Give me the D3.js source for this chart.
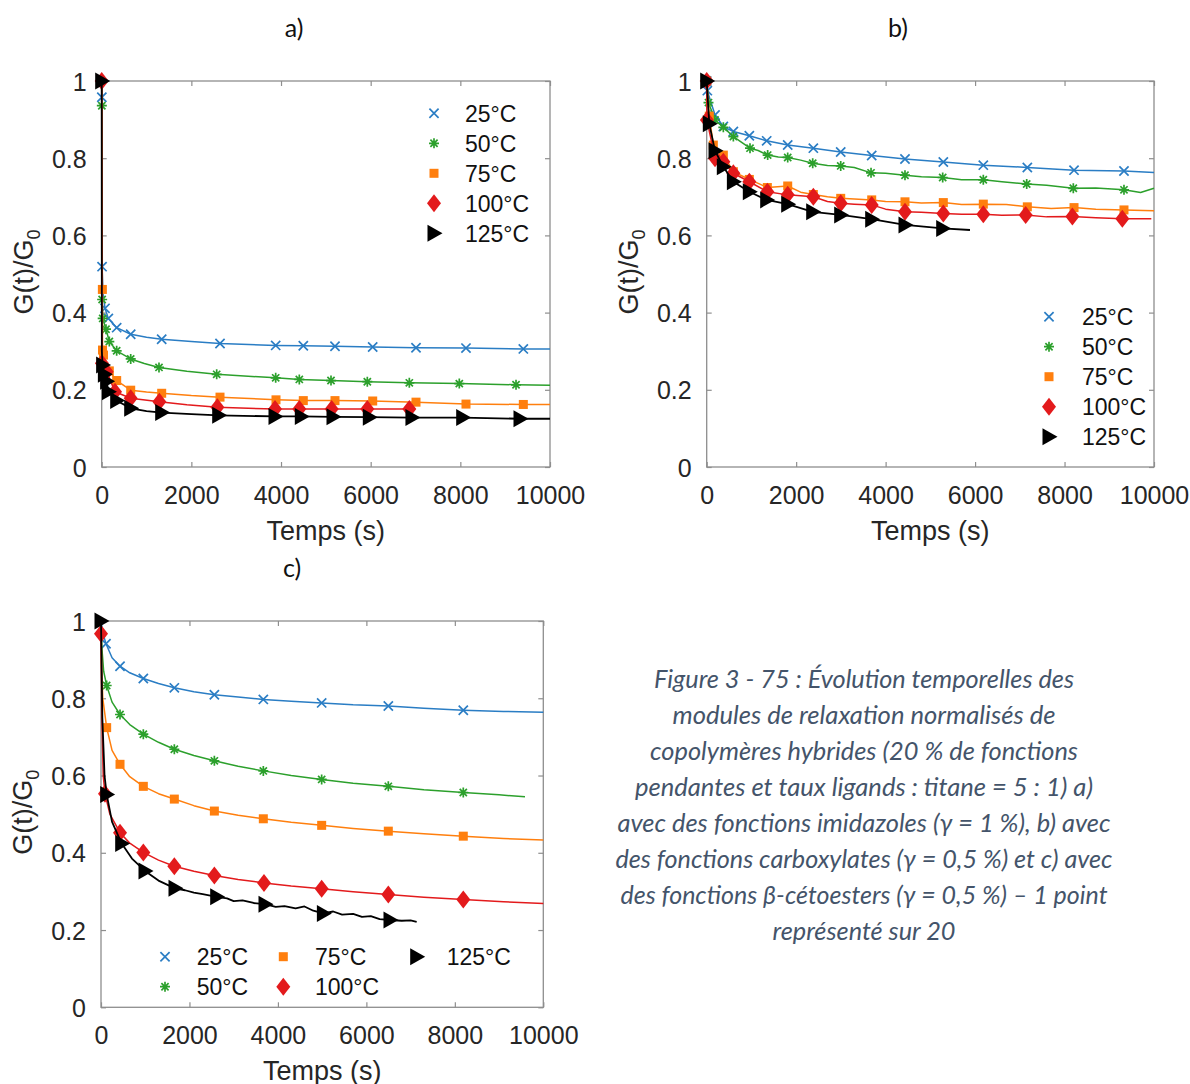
<!DOCTYPE html>
<html><head><meta charset="utf-8">
<script src="https://cdn.jsdelivr.net/npm/d3@7"></script>
<style>body{margin:0;background:#fff}svg{display:block}</style>
</head><body>
<svg id="chart" width="1190" height="1084"></svg>
<script>
// ---------- data ----------
const seriesNames = ["25°C", "50°C", "75°C", "100°C", "125°C"];
const xTickValues = [0, 2000, 4000, 6000, 8000, 10000];
const yTickValues = [0, 0.2, 0.4, 0.6, 0.8, 1];
const yTickLabels = ["0", "0.2", "0.4", "0.6", "0.8", "1"];
const panelTitles = ["a)", "b)", "c)"];
const xLabel = "Temps (s)";
const captionLines = [
  "Figure 3 - 75 : Évolution temporelles des",
  "modules de relaxation normalisés de",
  "copolymères hybrides (20 % de fonctions",
  "pendantes et taux ligands : titane = 5 : 1) a)",
  "avec des fonctions imidazoles (γ = 1 %), b) avec",
  "des fonctions carboxylates (γ = 0,5 %) et c) avec",
  "des fonctions β-cétoesters (γ = 0,5 %) – 1 point",
  "représenté sur 20"
];

// Panel a (imidazoles)
const a25Marks = [[3,0.958],[8,0.519],[74,0.411],[148,0.385],[334,0.361],[647,0.344],[1338,0.331],[2639,0.320],[3881,0.315],[4497,0.314],[5204,0.313],[6045,0.311],[7011,0.309],[8126,0.308],[9405,0.306]];
const a25Line = [[0,1],[3,0.958],[8,0.519],[30,0.45],[74,0.411],[148,0.385],[334,0.361],[647,0.344],[1000,0.336],[1338,0.331],[2000,0.325],[2639,0.320],[3881,0.315],[4497,0.314],[5204,0.313],[6045,0.311],[7011,0.309],[8126,0.308],[9405,0.306],[10000,0.306]];
const a50Marks = [[3,0.936],[10,0.434],[22,0.385],[96,0.357],[170,0.325],[334,0.301],[647,0.280],[1278,0.258],[2565,0.240],[3881,0.231],[4408,0.227],[5115,0.224],[5925,0.221],[6862,0.218],[7977,0.216],[9242,0.213]];
const a50Line = [[0,1],[3,0.936],[10,0.434],[22,0.385],[96,0.357],[170,0.325],[334,0.301],[647,0.280],[950,0.268],[1278,0.258],[1900,0.248],[2565,0.240],[3881,0.231],[4408,0.227],[5115,0.224],[5925,0.221],[6862,0.218],[7977,0.216],[9242,0.213],[10000,0.212]];
const a75Marks = [[15,0.460],[18,0.303],[40,0.290],[170,0.249],[334,0.224],[647,0.199],[1338,0.191],[2639,0.181],[3888,0.174],[4497,0.172],[5204,0.172],[6045,0.171],[7011,0.168],[8126,0.163],[9405,0.162]];
const a75Line = [[0,1],[15,0.460],[18,0.303],[40,0.290],[170,0.249],[334,0.224],[647,0.199],[1000,0.194],[1338,0.191],[2000,0.185],[2639,0.181],[3888,0.174],[4497,0.172],[5204,0.172],[6045,0.171],[7011,0.168],[8126,0.163],[9405,0.162],[10000,0.162]];
const a100Marks = [[0,1],[5,0.269],[111,0.247],[297,0.195],[647,0.178],[1286,0.169],[2580,0.155],[3866,0.150],[4408,0.150],[5130,0.150],[5925,0.150],[6862,0.150]];
const a100Line = [[0,1],[5,0.269],[111,0.247],[297,0.195],[647,0.178],[1286,0.169],[1900,0.161],[2580,0.155],[3866,0.150],[4408,0.150],[5130,0.150],[5925,0.150],[6862,0.150],[6951,0.150]];
const a125Marks = [[0,1],[20,0.264],[60,0.240],[110,0.222],[150,0.195],[334,0.172],[647,0.152],[1338,0.141],[2610,0.134],[3866,0.131],[4452,0.131],[5160,0.130],[5970,0.129],[6921,0.128],[8052,0.128],[9331,0.125]];
const a125Line = [[0,1],[3,0.30],[20,0.264],[60,0.240],[110,0.222],[150,0.195],[334,0.172],[647,0.152],[1000,0.145],[1338,0.141],[2000,0.137],[2610,0.134],[3866,0.131],[4452,0.131],[5160,0.130],[5970,0.129],[6921,0.128],[8052,0.128],[9331,0.125],[10000,0.125]];

// Panel b (carboxylates)
const b25Marks = [[0,1],[14,0.975],[186,0.912],[372,0.882],[596,0.869],[953,0.858],[1341,0.845],[1811,0.834],[2384,0.826],[2996,0.816],[3689,0.807],[4433,0.798],[5290,0.790],[6184,0.782],[7168,0.776],[8212,0.769],[9329,0.767]];
const b25Line = [[0,1],[14,0.975],[186,0.912],[372,0.882],[596,0.869],[953,0.858],[1341,0.845],[1811,0.834],[2384,0.826],[2996,0.816],[3689,0.807],[4433,0.798],[5290,0.790],[6184,0.782],[7168,0.776],[8212,0.769],[9329,0.767],[10000,0.763]];
const b50Marks = [[0,1],[40,0.944],[186,0.899],[372,0.880],[596,0.856],[968,0.826],[1363,0.808],[1811,0.802],[2370,0.787],[2996,0.780],[3674,0.762],[4433,0.756],[5276,0.750],[6184,0.744],[7154,0.733],[8196,0.722],[9329,0.718]];
const b50Line = [[0,1],[40,0.944],[186,0.899],[372,0.880],[596,0.856],[968,0.826],[1150,0.820],[1363,0.808],[1600,0.803],[1811,0.802],[2100,0.795],[2370,0.787],[2700,0.781],[2996,0.780],[3300,0.776],[3674,0.762],[4000,0.761],[4433,0.756],[4800,0.752],[5276,0.750],[5700,0.744],[6184,0.744],[6600,0.739],[7154,0.733],[7600,0.730],[8196,0.722],[8700,0.723],[9329,0.718],[9700,0.711],[10000,0.722]];
const b75Marks = [[0,1],[58,0.909],[148,0.834],[372,0.808],[596,0.765],[953,0.745],[1356,0.724],[1811,0.728],[2384,0.706],[2996,0.696],[3689,0.692],[4433,0.687],[5290,0.685],[6184,0.681],[7168,0.674],[8212,0.672],[9329,0.666]];
const b75Line = [[0,1],[58,0.909],[148,0.834],[372,0.808],[596,0.765],[953,0.745],[1356,0.724],[1811,0.728],[2100,0.712],[2384,0.706],[2700,0.700],[2996,0.696],[3300,0.694],[3689,0.692],[4000,0.688],[4433,0.687],[4800,0.684],[5290,0.685],[5700,0.680],[6184,0.681],[6700,0.680],[7168,0.674],[7700,0.670],[8212,0.672],[8700,0.668],[9329,0.666],[10000,0.664]];
const b100Marks = [[0,1],[5,0.899],[186,0.800],[372,0.791],[596,0.761],[953,0.739],[1356,0.713],[1811,0.705],[2384,0.700],[2996,0.683],[3689,0.679],[4433,0.661],[5290,0.657],[6184,0.655],[7131,0.653],[8175,0.649],[9292,0.643]];
const b100Line = [[0,1],[5,0.899],[186,0.800],[372,0.791],[596,0.761],[953,0.739],[1356,0.713],[1811,0.705],[2384,0.700],[2700,0.688],[2996,0.683],[3300,0.681],[3689,0.679],[4000,0.668],[4433,0.661],[4800,0.660],[5290,0.657],[5700,0.655],[6184,0.655],[6600,0.652],[7131,0.653],[7600,0.648],[8175,0.649],[8700,0.646],[9292,0.643],[9940,0.643]];
const b125Marks = [[0,1],[58,0.889],[186,0.819],[372,0.778],[596,0.739],[953,0.713],[1341,0.692],[1811,0.681],[2370,0.661],[2996,0.653],[3689,0.642],[4433,0.627],[5276,0.618]];
const b125Line = [[0,1],[58,0.889],[186,0.819],[372,0.778],[596,0.739],[953,0.713],[1341,0.692],[1811,0.681],[2370,0.661],[2996,0.653],[3689,0.642],[4433,0.627],[5276,0.618],[5886,0.614]];

// Panel c (β-cétoesters)
const c25Marks = [[113,0.941],[430,0.883],[957,0.851],[1658,0.827],[2563,0.809],[3670,0.797],[4989,0.788],[6496,0.780],[8191,0.769]];
const c25Line = [[0,1],[50,0.965],[113,0.941],[250,0.905],[430,0.883],[650,0.866],[957,0.851],[1300,0.838],[1658,0.827],[2100,0.817],[2563,0.809],[3100,0.803],[3670,0.797],[4300,0.792],[4989,0.788],[5700,0.783],[6496,0.780],[7300,0.774],[8191,0.769],[9100,0.766],[10000,0.764]];
const c50Marks = [[128,0.833],[430,0.758],[957,0.707],[1658,0.668],[2563,0.638],[3670,0.612],[4989,0.590],[6496,0.572],[8191,0.556]];
const c50Line = [[0,1],[20,0.93],[60,0.87],[128,0.833],[250,0.790],[430,0.758],[650,0.732],[957,0.707],[1300,0.686],[1658,0.668],[2100,0.652],[2563,0.638],[3100,0.624],[3670,0.612],[4300,0.600],[4989,0.590],[5700,0.580],[6496,0.572],[7300,0.563],[8191,0.556],[9000,0.550],[9586,0.545]];
const c75Marks = [[128,0.724],[430,0.629],[957,0.572],[1658,0.539],[2563,0.508],[3670,0.488],[4989,0.471],[6496,0.456],[8191,0.443]];
const c75Line = [[0,1],[15,0.88],[40,0.80],[128,0.724],[250,0.665],[430,0.629],[650,0.597],[957,0.572],[1300,0.553],[1658,0.539],[2100,0.522],[2563,0.508],[3100,0.497],[3670,0.488],[4300,0.479],[4989,0.471],[5700,0.463],[6496,0.456],[7300,0.449],[8191,0.443],[9100,0.437],[10000,0.433]];
const c100Marks = [[0,0.967],[90,0.553],[430,0.452],[957,0.401],[1658,0.365],[2563,0.341],[3685,0.322],[4989,0.307],[6496,0.292],[8191,0.279]];
const c100Line = [[0,1],[0,0.967],[20,0.75],[50,0.60],[90,0.553],[200,0.500],[430,0.452],[650,0.425],[957,0.401],[1300,0.381],[1658,0.365],[2100,0.352],[2563,0.341],[3100,0.331],[3685,0.322],[4300,0.314],[4989,0.307],[5700,0.299],[6496,0.292],[7300,0.285],[8191,0.279],[9100,0.273],[10000,0.269]];
const c125Marks = [[0,1],[128,0.551],[468,0.424],[995,0.353],[1673,0.308],[2615,0.286],[3708,0.267],[5027,0.243],[6534,0.226]];
const c125Line = [[0,1],[30,0.75],[80,0.60],[128,0.551],[250,0.480],[468,0.424],[700,0.385],[995,0.353],[1300,0.328],[1673,0.308],[1900,0.303],[2100,0.297],[2300,0.293],[2615,0.286],[2850,0.282],[3000,0.275],[3200,0.277],[3450,0.270],[3708,0.267],[3950,0.260],[4150,0.262],[4400,0.256],[4600,0.261],[4800,0.250],[5027,0.243],[5250,0.248],[5450,0.240],[5700,0.242],[5900,0.234],[6100,0.236],[6300,0.228],[6534,0.226],[6800,0.224],[7000,0.225],[7137,0.221]];

// ---------- styles ----------
const colors = ["#2a7dc4", "#2ca02c", "#ff7f0e", "#e31a1c", "#000000"];
const markerTypes = ["x", "star", "square", "diamond", "triangle"];

const panels = [
  { title: panelTitles[0], tx: 294, ty: 37, x0: 101.7, x1: 550, y0: 81, y1: 467,
    lines: [a25Line, a50Line, a75Line, a100Line, a125Line],
    marks: [a25Marks, a50Marks, a75Marks, a100Marks, a125Marks],
    legend: seriesNames.map((n, i) => ({ mx: 434, tx: 465, y: 113.3 + 30 * i })) },
  { title: panelTitles[1], tx: 898, ty: 37, x0: 706.7, x1: 1154, y0: 81, y1: 467,
    lines: [b25Line, b50Line, b75Line, b100Line, b125Line],
    marks: [b25Marks, b50Marks, b75Marks, b100Marks, b125Marks],
    legend: seriesNames.map((n, i) => ({ mx: 1049, tx: 1082, y: 316.7 + 30 * i })) },
  { title: panelTitles[2], tx: 292, ty: 577, x0: 101, x1: 543.3, y0: 621, y1: 1007.3,
    lines: [c25Line, c50Line, c75Line, c100Line, c125Line],
    marks: [c25Marks, c50Marks, c75Marks, c100Marks, c125Marks],
    legend: [
      { mx: 165, tx: 196.7, y: 956.7 }, { mx: 165, tx: 196.7, y: 986.7 },
      { mx: 283.3, tx: 315, y: 956.7 }, { mx: 283.3, tx: 315, y: 986.7 },
      { mx: 416.7, tx: 446.7, y: 956.7 } ] }
];

const svg = d3.select("#chart");
const AX = "#8e8e8e";
const TXT = "#262626";
const numFont = "'Liberation Sans', Arial, sans-serif";

function drawMarker(g, type, color, x, y) {
  if (type === "x") {
    const s = 4.6;
    g.append("path").attr("d", `M${x-s},${y-s}L${x+s},${y+s}M${x-s},${y+s}L${x+s},${y-s}`)
      .attr("stroke", color).attr("stroke-width", 1.7).attr("fill", "none");
  } else if (type === "star") {
    const s = 5, d = s * 0.72;
    g.append("path").attr("d", `M${x-s},${y}L${x+s},${y}M${x},${y-s}L${x},${y+s}M${x-d},${y-d}L${x+d},${y+d}M${x-d},${y+d}L${x+d},${y-d}`)
      .attr("stroke", color).attr("stroke-width", 1.7).attr("fill", "none");
  } else if (type === "square") {
    const s = 4.5;
    g.append("rect").attr("x", x - s).attr("y", y - s).attr("width", 2 * s).attr("height", 2 * s).attr("fill", color);
  } else if (type === "diamond") {
    const w = 7, h = 9;
    g.append("path").attr("d", `M${x},${y-h}L${x+w},${y}L${x},${y+h}L${x-w},${y}Z`).attr("fill", color);
  } else if (type === "triangle") {
    g.append("path").attr("d", `M${x-6.5},${y-8.5}L${x+8.5},${y}L${x-6.5},${y+8.5}Z`).attr("fill", color);
  }
}

panels.forEach(p => {
  const x = d3.scaleLinear().domain([0, 10000]).range([p.x0, p.x1]);
  const y = d3.scaleLinear().domain([0, 1]).range([p.y1, p.y0]);
  const g = svg.append("g");

  // box
  g.append("rect").attr("x", p.x0).attr("y", p.y0).attr("width", p.x1 - p.x0).attr("height", p.y1 - p.y0)
    .attr("fill", "none").attr("stroke", AX).attr("stroke-width", 1.3);

  // axes
  const fmtY = d => yTickLabels[yTickValues.indexOf(d)];
  const bottom = g.append("g").attr("transform", `translate(0,${p.y1})`)
    .call(d3.axisBottom(x).tickValues(xTickValues).tickSizeInner(-5).tickSizeOuter(0).tickPadding(19).tickFormat(d3.format("d")));
  const left = g.append("g").attr("transform", `translate(${p.x0},0)`)
    .call(d3.axisLeft(y).tickValues(yTickValues).tickSizeInner(-5).tickSizeOuter(0).tickPadding(15).tickFormat(fmtY));
  const top = g.append("g").attr("transform", `translate(0,${p.y0})`)
    .call(d3.axisTop(x).tickValues(xTickValues).tickSizeInner(-5).tickSizeOuter(0).tickFormat(""));
  const right = g.append("g").attr("transform", `translate(${p.x1},0)`)
    .call(d3.axisRight(y).tickValues(yTickValues).tickSizeInner(-5).tickSizeOuter(0).tickFormat(""));
  [bottom, left, top, right].forEach(a => {
    a.select(".domain").remove();
    a.selectAll(".tick line").attr("stroke", AX).attr("stroke-width", 1.2);
    a.selectAll(".tick text").attr("fill", TXT).style("font-family", numFont).style("font-size", "25px");
  });
  bottom.selectAll(".tick text").attr("dy", "0.71em");
  left.selectAll(".tick text").attr("dy", "0.36em");

  // axis labels
  g.append("text").attr("x", (p.x0 + p.x1) / 2).attr("y", p.y1 + 73).attr("text-anchor", "middle")
    .attr("fill", TXT).style("font-family", numFont).style("font-size", "27px").text(xLabel);
  const yl = g.append("text").attr("transform", `translate(${p.x0 - 69},${(p.y0 + p.y1) / 2 - 2}) rotate(-90)`)
    .attr("text-anchor", "middle").attr("fill", TXT).style("font-family", numFont).style("font-size", "27px");
  yl.append("tspan").text("G(t)/G");
  yl.append("tspan").attr("dy", 7).style("font-size", "18px").text("0");

  // title
  svg.append("text").attr("x", p.tx).attr("y", p.ty).attr("text-anchor", "middle").attr("fill", "#111")
    .style("font-family", "Lato, 'Open Sans', sans-serif").style("font-size", "25px").text(p.title);

  // series
  const line = d3.line().x(d => x(d[0])).y(d => y(d[1]));
  p.lines.forEach((ld, i) => {
    g.append("path").datum(ld).attr("d", line).attr("fill", "none")
      .attr("stroke", colors[i]).attr("stroke-width", i === 4 ? 1.8 : 1.5).attr("stroke-linejoin", "round");
    const mg = g.append("g");
    p.marks[i].forEach(m => drawMarker(mg, markerTypes[i], colors[i], x(m[0]), y(m[1])));
  });

  // legend
  p.legend.forEach((L, i) => {
    drawMarker(g, markerTypes[i], colors[i], L.mx, L.y);
    g.append("text").attr("x", L.tx).attr("y", L.y).attr("dy", "0.36em").attr("fill", "#111")
      .style("font-family", numFont).style("font-size", "23px").text(seriesNames[i]);
  });
});

// caption
const capWidths = [420, 383, 428, 458, 493, 497, 487, 183];
const cap = svg.append("g");
captionLines.forEach((t, i) => {
  cap.append("text").attr("x", 864).attr("y", 688 + 36 * i).attr("text-anchor", "middle")
    .attr("fill", "#44546A").style("font-family", "Lato, 'Open Sans', sans-serif").style("font-style", "italic")
    .style("font-size", "25px").attr("textLength", capWidths[i]).attr("lengthAdjust", "spacingAndGlyphs").text(t);
});
</script>
</body></html>
